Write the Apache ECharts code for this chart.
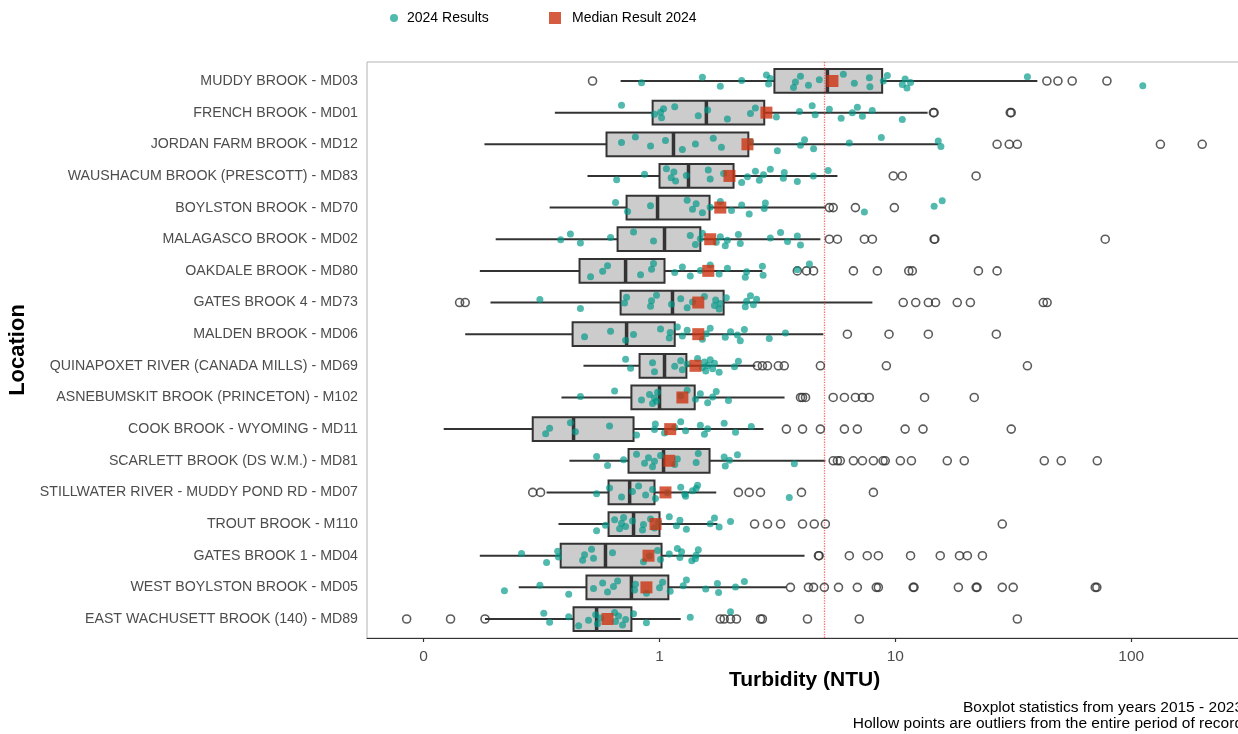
<!DOCTYPE html>
<html>
<head>
<meta charset="utf-8">
<script src="https://cdn.jsdelivr.net/npm/echarts@6/dist/echarts.min.js"></script>
<style>
html,body{margin:0;padding:0;background:#fff;}
#chart{width:1238px;height:734px;}
</style>
</head>
<body>
<div id="chart"></div>
<script>
const categories = [
  'MUDDY BROOK - MD03',
  'FRENCH BROOK - MD01',
  'JORDAN FARM BROOK - MD12',
  'WAUSHACUM BROOK (PRESCOTT) - MD83',
  'BOYLSTON BROOK - MD70',
  'MALAGASCO BROOK - MD02',
  'OAKDALE BROOK - MD80',
  'GATES BROOK 4 - MD73',
  'MALDEN BROOK - MD06',
  'QUINAPOXET RIVER (CANADA MILLS) - MD69',
  'ASNEBUMSKIT BROOK (PRINCETON) - M102',
  'COOK BROOK - WYOMING - MD11',
  'SCARLETT BROOK (DS W.M.) - MD81',
  'STILLWATER RIVER - MUDDY POND RD - MD07',
  'TROUT BROOK - M110',
  'GATES BROOK 1 - MD04',
  'WEST BOYLSTON BROOK - MD05',
  'EAST WACHUSETT BROOK (140) - MD89'
];

// Boxplot statistics 2015 - 2023 (NTU)
const whiskerLow  = [0.684, 0.36, 0.181, 0.495, 0.342, 0.202, 0.173, 0.192, 0.15, 0.476, 0.384, 0.1216, 0.415, 0.332, 0.373, 0.173, 0.253, 0.182];
const q1          = [3.07, 0.935, 0.596, 1.0, 0.725, 0.664, 0.458, 0.684, 0.428, 0.823, 0.76, 0.29, 0.739, 0.608, 0.608, 0.381, 0.49, 0.432];
const median      = [5.15, 1.58, 1.146, 1.327, 0.981, 1.05, 0.718, 1.135, 0.725, 1.05, 1.0, 0.432, 1.04, 0.747, 0.776, 0.59, 0.76, 0.541];
const q3          = [8.79, 2.78, 2.38, 2.06, 1.63, 1.49, 1.05, 1.87, 1.16, 1.30, 1.41, 0.776, 1.63, 0.952, 1.0, 1.02, 1.09, 0.76];
const whiskerHigh = [40.0, 13.7, 15.2, 5.68, 5.05, 4.81, 2.73, 7.99, 4.95, 2.55, 3.39, 2.76, 5.05, 1.74, 1.76, 4.12, 3.45, 1.23];

// Median result 2024 (NTU)
const median2024 = [5.41, 2.84, 2.36, 1.98, 1.81, 1.64, 1.61, 1.46, 1.46, 1.42, 1.25, 1.11, 1.10, 1.06, 0.962, 0.898, 0.88, 0.602];

// Outliers from the entire period of record (NTU)
const outliers = [
  [0.52, 43.9, 48.9, 56.2, 78.9],
  [14.5, 14.6, 30.7, 31.0],
  [27.0, 30.4, 32.9, 133, 200],
  [9.8, 10.7, 22.0],
  [5.25, 5.45, 6.77, 9.9],
  [5.25, 5.68, 7.39, 7.99, 14.6, 14.7, 77.6],
  [3.84, 4.2, 4.5, 6.64, 8.39, 11.4, 11.8, 22.5, 27.0],
  [0.142, 0.15, 10.8, 12.2, 13.8, 14.8, 18.3, 20.8, 42.4, 44.0],
  [6.26, 9.4, 13.8, 26.8],
  [2.6, 2.73, 2.87, 3.19, 3.38, 4.81, 9.16, 36.3],
  [3.96, 4.04, 4.16, 5.45, 6.08, 6.77, 7.25, 7.75, 13.3, 21.6],
  [3.45, 4.04, 4.81, 6.08, 6.9, 11.0, 13.1, 31.0],
  [5.45, 5.68, 5.84, 6.64, 7.25, 8.07, 8.87, 9.06, 10.5, 11.7, 16.6, 19.6, 42.8, 50.5, 71.8],
  [0.29, 0.313, 2.16, 2.40, 2.68, 4.0, 8.07],
  [2.53, 2.87, 3.26, 4.04, 4.53, 5.05, 28.4],
  [4.72, 4.75, 6.38, 7.6, 8.47, 11.6, 15.5, 18.7, 20.2, 23.4],
  [3.59, 4.28, 4.5, 5.0, 5.74, 6.9, 8.3, 8.47, 11.9, 12.0, 18.5, 22.0, 22.2, 28.4, 31.6, 70.4, 71.5],
  [0.0847, 0.13, 0.182, 1.81, 1.88, 2.0, 2.12, 2.68, 2.73, 4.24, 7.03, 32.9]
];

// 2024 results (NTU)
const results2024 = [
  [0.839, 1.52, 1.81, 2.23, 2.84, 2.90, 2.95, 3.70, 3.77, 3.96, 4.28, 4.76, 6.02, 6.70, 7.76, 7.80, 8.89, 9.25, 10.7, 11.0, 11.2, 11.6, 36.3, 112],
  [0.69, 0.952, 1.04, 1.02, 1.01, 1.16, 1.46, 1.60, 1.94, 2.43, 2.55, 3.13, 3.92, 4.44, 4.57, 5.25, 5.89, 6.57, 6.90, 7.25, 7.98, 10.7],
  [0.69, 0.79, 0.916, 1.06, 1.25, 1.42, 1.69, 1.83, 2.43, 3.16, 3.96, 4.12, 4.5, 6.38, 8.72, 15.6, 15.2],
  [0.658, 0.864, 1.07, 1.12, 1.15, 1.17, 1.30, 1.61, 1.64, 1.87, 2.23, 2.36, 2.55, 2.65, 2.76, 2.95, 3.35, 3.38, 3.84, 4.49, 5.19],
  [0.651, 0.732, 0.916, 1.31, 1.38, 1.43, 1.52, 1.64, 1.81, 2.02, 2.23, 2.40, 2.78, 2.81, 7.39, 14.6, 15.8],
  [0.381, 0.419, 0.462, 0.620, 0.776, 0.943, 1.35, 1.42, 1.49, 1.52, 1.74, 1.81, 1.90, 1.94, 2.16, 2.20, 2.95, 3.26, 3.49, 3.84, 3.96],
  [0.51, 0.574, 0.602, 0.831, 0.925, 0.943, 1.16, 1.25, 1.35, 1.49, 1.64, 1.79, 1.94, 2.31, 2.34, 2.73, 2.75, 3.84, 4.32],
  [0.311, 0.462, 0.711, 0.725, 0.916, 0.925, 0.971, 1.124, 1.23, 1.31, 1.38, 1.55, 1.71, 1.73, 1.79, 1.81, 1.92, 2.31, 2.34, 2.43, 2.5, 2.58],
  [0.481, 0.620, 0.718, 0.776, 1.01, 1.10, 1.11, 1.19, 1.25, 1.31, 1.52, 1.58, 1.64, 1.90, 2.00, 2.20, 2.14, 2.29, 2.92, 3.42],
  [0.718, 0.754, 0.934, 0.952, 1.16, 1.23, 1.25, 1.31, 1.45, 1.52, 1.55, 1.57, 1.6, 1.64, 1.68, 1.71, 1.79, 2.08, 2.16],
  [0.462, 0.645, 0.839, 0.907, 0.934, 0.952, 0.981, 0.971, 1.23, 1.31, 1.42, 1.49, 1.6, 1.68, 1.74, 1.96],
  [0.329, 0.342, 0.419, 0.44, 0.614, 0.799, 0.952, 0.96, 1.05, 1.16, 1.23, 1.29, 1.49, 1.55, 1.6, 1.88, 2.1, 2.45],
  [0.541, 0.602, 0.704, 0.799, 0.864, 0.898, 0.934, 0.952, 1.01, 1.16, 1.19, 1.46, 1.43, 1.88, 1.90, 1.98, 2.14, 3.73],
  [0.541, 0.614, 0.69, 0.768, 0.815, 0.873, 0.934, 0.961, 1.08, 1.23, 1.29, 1.38, 1.45, 1.28, 1.43, 3.55],
  [0.541, 0.59, 0.645, 0.677, 0.69, 0.704, 0.718, 0.768, 0.847, 0.855, 0.916, 0.952, 0.99, 1.10, 1.18, 1.22, 1.30, 1.64, 1.71, 1.79, 2.0],
  [0.26, 0.332, 0.373, 0.37, 0.472, 0.481, 0.515, 0.525, 0.632, 0.855, 0.907, 0.981, 1.01, 1.10, 1.19, 1.22, 1.24, 1.37, 1.43, 1.46, 1.42],
  [0.22, 0.311, 0.412, 0.525, 0.574, 0.602, 0.638, 0.664, 0.784, 0.791, 0.88, 1.0, 1.03, 1.11, 1.26, 1.30, 1.57, 1.76, 1.78, 2.1, 2.29],
  [0.323, 0.342, 0.412, 0.454, 0.5, 0.536, 0.546, 0.563, 0.645, 0.651, 0.67, 0.697, 0.718, 0.776, 0.88, 1.35, 2.0]
];

const xTickValues = [0.1, 1, 10, 100];
const xTickLabels = ['0', '1', '10', '100'];
const guideValue = 5;

// ---------- build series data ----------
const FONT = 'Liberation Sans, Arial, Helvetica, sans-serif';
const boxData = categories.map((c, i) => [i, whiskerLow[i], q1[i], median[i], q3[i], whiskerHigh[i]]);
const outlierData = [];
outliers.forEach((arr, i) => arr.forEach(v => outlierData.push([v, i])));
// deterministic vertical jitter (display only)
function jitter(i, k) { return ((((k + 1) * 0.6180339887 + i * 0.3819660113) % 1) - 0.5) * 0.46; }
const pointData = [];
results2024.forEach((arr, i) => arr.forEach((v, k) => pointData.push([v, i + jitter(i, k)])));
const medianData = median2024.map((v, i) => [v, i]);

const chart = echarts.init(document.getElementById('chart'), null, { renderer: 'canvas' });

chart.setOption({
  animation: false,
  backgroundColor: '#ffffff',
  textStyle: { fontFamily: FONT },
  grid: [
    { left: 367, top: 62, width: 875, height: 576, show: true, borderColor: '#b3b3b3', borderWidth: 1, backgroundColor: 'transparent', containLabel: false, outerBoundsMode: 'none' },
    { left: 367, top: 65.2, width: 875, height: 569.6, show: false, containLabel: false, outerBoundsMode: 'none' }
  ],
  legend: [
    {
      data: [{ name: '2024 Results', icon: 'circle' }],
      left: 385, top: 6, itemWidth: 8, itemHeight: 8,
      textStyle: { fontFamily: FONT, fontSize: 14, color: '#000', padding: [0, 0, 0, 4] },
      selectedMode: false
    },
    {
      data: [{ name: 'Median Result 2024', icon: 'rect' }],
      left: 544, top: 6, itemWidth: 12, itemHeight: 12,
      textStyle: { fontFamily: FONT, fontSize: 14, color: '#000', padding: [0, 0, 0, 6] },
      selectedMode: false
    }
  ],
  xAxis: [
    {
      type: 'log', logBase: 10, gridIndex: 0,
      min: 0.0575, max: 295,
      name: 'Turbidity (NTU)', nameLocation: 'middle', nameGap: 30,
      nameTextStyle: { fontFamily: FONT, fontSize: 21, fontWeight: 'bold', color: '#000' },
      axisLine: { show: true, onZero: false, lineStyle: { color: '#333', width: 1.2 } },
      axisTick: { show: true, length: 4, customValues: xTickValues, lineStyle: { color: '#333', width: 1.2 } },
      axisLabel: {
        customValues: xTickValues, margin: 11, fontFamily: FONT, fontSize: 15.5, color: '#4d4d4d',
        formatter: function (v) {
          for (let j = 0; j < xTickValues.length; j++) {
            if (Math.abs(Math.log10(v) - Math.log10(xTickValues[j])) < 1e-6) return xTickLabels[j];
          }
          return '';
        }
      },
      splitLine: { show: false }
    },
    { type: 'value', gridIndex: 1, show: false }
  ],
  yAxis: [
    { type: 'value', gridIndex: 0, min: -0.6, max: 17.6, inverse: true, show: false, splitLine: { show: false } },
    {
      type: 'category', gridIndex: 1, data: categories, inverse: true,
      name: 'Location', nameLocation: 'middle', nameGap: 331, nameRotate: 90,
      nameTextStyle: { fontFamily: FONT, fontSize: 22, fontWeight: 'bold', color: '#000' },
      axisLine: { show: false },
      axisTick: { show: false },
      axisLabel: { margin: 9, fontFamily: FONT, fontSize: 14.2, color: '#4d4d4d' },
      splitLine: { show: false }
    }
  ],
  series: [
    {
      name: 'boxes', type: 'custom', xAxisIndex: 0, yAxisIndex: 0, z: 2,
      dimensions: ['idx', 'low', 'q1', 'med', 'q3', 'high'],
      encode: { x: [1, 2, 3, 4, 5], y: 0 },
      data: boxData,
      silent: true,
      renderItem: function (params, api) {
        const idx = api.value(0);
        const lo = api.coord([api.value(1), idx]);
        const a = api.coord([api.value(2), idx]);
        const m = api.coord([api.value(3), idx]);
        const b = api.coord([api.value(4), idx]);
        const hi = api.coord([api.value(5), idx]);
        const band = Math.abs(api.coord([api.value(3), idx + 1])[1] - m[1]);
        const h = band * 0.375;
        return {
          type: 'group',
          children: [
            { type: 'line', shape: { x1: lo[0], y1: lo[1], x2: hi[0], y2: hi[1] }, style: { stroke: '#333333', lineWidth: 2 } },
            { type: 'rect', shape: { x: a[0], y: m[1] - h, width: b[0] - a[0], height: 2 * h }, style: { fill: '#cccccc', stroke: '#333333', lineWidth: 2 } },
            { type: 'line', shape: { x1: m[0], y1: m[1] - h, x2: m[0], y2: m[1] + h }, style: { stroke: '#333333', lineWidth: 3.5 } }
          ]
        };
      }
    },
    {
      name: 'Outliers', type: 'scatter', xAxisIndex: 0, yAxisIndex: 0, z: 3,
      data: outlierData, symbol: 'circle', symbolSize: 8, silent: true,
      itemStyle: { color: 'rgba(0,0,0,0)', borderColor: '#333333', borderWidth: 1.6 },
      markLine: {
        silent: true, symbol: ['none', 'none'], z: 3,
        label: { show: false },
        lineStyle: { color: 'rgba(255,60,60,0.75)', type: 'dotted', width: 1.3 },
        data: [{ xAxis: guideValue }]
      }
    },
    {
      name: '2024 Results', type: 'scatter', xAxisIndex: 0, yAxisIndex: 0, z: 4,
      data: pointData, symbol: 'circle', symbolSize: 7, silent: true,
      itemStyle: { color: 'rgba(0,153,136,0.85)' }
    },
    {
      name: 'Median Result 2024', type: 'scatter', xAxisIndex: 0, yAxisIndex: 0, z: 5,
      data: medianData, symbol: 'rect', symbolSize: 12, silent: true,
      itemStyle: { color: '#CC3311' }
    }
  ],
  graphic: [
    { type: 'text', x: 1243, y: 708, style: { text: 'Boxplot statistics from years 2015 - 2023', align: 'right', verticalAlign: 'middle', font: '15.5px ' + FONT, fill: '#000' } },
    { type: 'text', x: 1243, y: 724, style: { text: 'Hollow points are outliers from the entire period of record', align: 'right', verticalAlign: 'middle', font: '15.5px ' + FONT, fill: '#000' } }
  ]
});
</script>
</body>
</html>
